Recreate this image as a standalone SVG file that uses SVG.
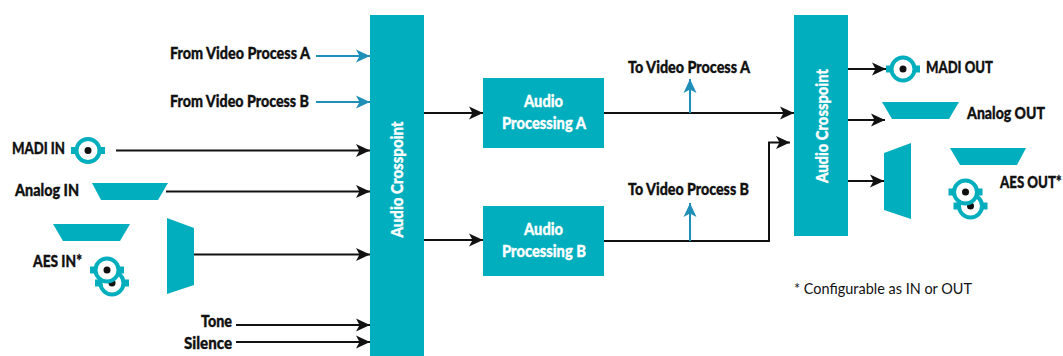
<svg xmlns="http://www.w3.org/2000/svg" width="1063" height="356" viewBox="0 0 1063 356">
<style>
text{font-family:"Lato","Liberation Sans",sans-serif;font-weight:900;font-size:17px;fill:#111;stroke:#111;stroke-width:.35}
.w{fill:#fff;stroke:#fff;text-anchor:middle}
.t{fill:#00aebd}
.p{fill:#00aebd}
.d{fill:#111}
.k{fill:none;stroke:#111;stroke-width:2}
.b{fill:none;stroke:#1f8fb8;stroke-width:2}
</style>
<defs>
<marker id="ak" markerUnits="userSpaceOnUse" markerWidth="15" markerHeight="15" refX="14" refY="7.500" orient="auto"><path d="M0 1 L14 7.500 L0 14 L3.500 7.500Z" fill="#111"/></marker>
<marker id="ab" markerUnits="userSpaceOnUse" markerWidth="15" markerHeight="15" refX="14" refY="7.500" orient="auto"><path d="M0 1 L14 7.500 L0 14 L3.500 7.500Z" fill="#1f8fb8"/></marker>
<g id="bnc"><rect class="p" x="-17" y="-3.500" width="34" height="7"/><circle cx="0" cy="0" r="11.500" fill="#fff" stroke="#00aebd" stroke-width="4"/><circle class="d" cx="0" cy="0" r="3.500"/></g>
</defs>
<g id="connectors">
<path class="b" d="M316 56H370" marker-end="url(#ab)"/>
<path class="b" d="M316 102H370" marker-end="url(#ab)"/>
<path class="k" d="M116 150.500H370" marker-end="url(#ak)"/>
<path class="k" d="M166 191.500H370" marker-end="url(#ak)"/>
<path class="k" d="M194 254.500H370" marker-end="url(#ak)"/>
<path class="k" d="M236 325H370" marker-end="url(#ak)"/>
<path class="k" d="M236 342H370" marker-end="url(#ak)"/>
<path class="k" d="M424 113H483" marker-end="url(#ak)"/>
<path class="k" d="M424 240H483" marker-end="url(#ak)"/>
<path class="k" d="M604 113H794" marker-end="url(#ak)"/>
<path class="k" d="M604 241H769V142.500H790" marker-end="url(#ak)"/>
<path class="b" d="M690 113V79" marker-end="url(#ab)"/>
<path class="b" d="M690 241V203" marker-end="url(#ab)"/>
<path class="k" d="M848 69H886" marker-end="url(#ak)"/>
<path class="k" d="M848 120H885" marker-end="url(#ak)"/>
<path class="k" d="M848 181H884" marker-end="url(#ak)"/>
</g>
<g id="crosspoint-in"><rect class="t" x="370" y="15" width="54" height="341"/><text class="w" transform="translate(403 179.500) rotate(-90)" textLength="116" lengthAdjust="spacingAndGlyphs">Audio Crosspoint</text></g>
<g id="crosspoint-out"><rect class="t" x="794" y="15" width="54" height="221"/><text class="w" transform="translate(828 126) rotate(-90)" textLength="114" lengthAdjust="spacingAndGlyphs">Audio Crosspoint</text></g>
<g id="proc-a"><rect class="t" x="483" y="78" width="121" height="70"/><text class="w" x="543.500" y="107" textLength="39" lengthAdjust="spacingAndGlyphs">Audio</text><text class="w" x="544" y="129" textLength="84" lengthAdjust="spacingAndGlyphs">Processing A</text></g>
<g id="proc-b"><rect class="t" x="483" y="206" width="121" height="70"/><text class="w" x="543.500" y="235" textLength="39" lengthAdjust="spacingAndGlyphs">Audio</text><text class="w" x="544" y="257" textLength="84" lengthAdjust="spacingAndGlyphs">Processing B</text></g>
<g id="labels">
<text x="170" y="59" textLength="140" lengthAdjust="spacingAndGlyphs">From Video Process A</text>
<text x="170" y="107" textLength="139" lengthAdjust="spacingAndGlyphs">From Video Process B</text>
<text x="628" y="73" textLength="122" lengthAdjust="spacingAndGlyphs">To Video Process A</text>
<text x="628" y="195" textLength="121" lengthAdjust="spacingAndGlyphs">To Video Process B</text>
<text x="201" y="327" textLength="31" lengthAdjust="spacingAndGlyphs">Tone</text>
<text x="184" y="349" textLength="48" lengthAdjust="spacingAndGlyphs">Silence</text>
</g>
<g id="madi-in"><use href="#bnc" x="88" y="150.500"/><text x="12" y="154" textLength="53" lengthAdjust="spacingAndGlyphs">MADI IN</text></g>
<g id="analog-in"><path class="p" d="M92 183H168L158 200H101Z"/><text x="15" y="196" textLength="64" lengthAdjust="spacingAndGlyphs">Analog IN</text></g>
<g id="aes-in"><path class="p" d="M53 224H130L120 241H63Z"/><path class="p" d="M167 218L194 228V285L167 294Z"/><use href="#bnc" x="112" y="283"/><use href="#bnc" x="107" y="270"/><text x="33" y="267" textLength="49" lengthAdjust="spacingAndGlyphs">AES IN*</text></g>
<g id="madi-out"><use href="#bnc" x="903" y="69"/><text x="926" y="73" textLength="67" lengthAdjust="spacingAndGlyphs">MADI OUT</text></g>
<g id="analog-out"><path class="p" d="M882 102H959L949 119H892Z"/><text x="967" y="119" textLength="78" lengthAdjust="spacingAndGlyphs">Analog OUT</text></g>
<g id="aes-out"><path class="p" d="M950 148H1026L1017 165H960Z"/><path class="p" d="M884 153L911 143V219L884 210Z"/><use href="#bnc" x="970.500" y="206"/><use href="#bnc" x="965.500" y="192"/><text transform="translate(1000 188) scale(.78 1)">AES OUT*</text></g>
<text id="note" x="794" y="294" style="font-weight:400;font-size:16px;stroke:none" textLength="178" lengthAdjust="spacingAndGlyphs">* Configurable as IN or OUT</text>
</svg>
